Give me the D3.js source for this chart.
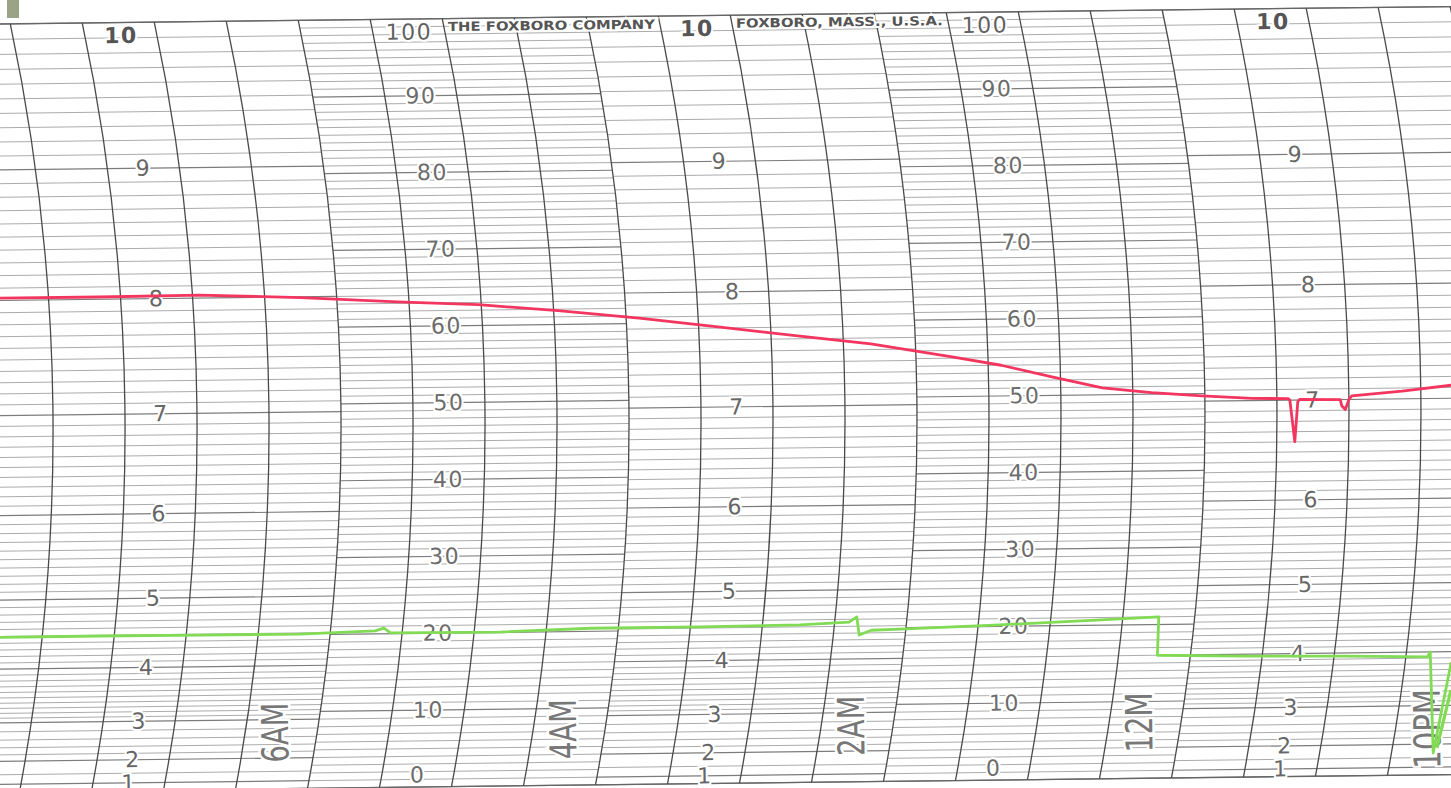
<!DOCTYPE html>
<html>
<head>
<meta charset="utf-8">
<script src="https://cdn.jsdelivr.net/npm/d3@7/dist/d3.min.js"></script>
<style>
  body { margin: 0; background: #fff; }
  svg { display: block; }
</style>
</head>
<body>
<svg></svg>
<script>
// hours after 10PM, time runs right to left on this paper
var timeLabels = ["10PM", "12M", "2AM", "4AM", "6AM"];
var timeHours = [0, 2, 4, 6, 8];

// 0-100 linear scale and the 1-10 square root scale
var linearTicks = [10, 20, 30, 40, 50, 60, 70, 80, 90];
var sqrtTicks = [1, 2, 3, 4, 5, 6, 7, 8, 9];

var headerTexts = ["THE FOXBORO COMPANY", "FOXBORO, MASS., U.S.A."];

// red pen, read on the 0-100 scale
var redHours = [10.15, 9.4, 8.7, 8.0, 7.33, 6.77, 6.22, 5.66, 5.1, 4.55, 4.06, 3.51, 3.16, 2.81, 2.46, 2.12, 1.77, 1.42, 1.17, 1.16, 1.125, 1.105, 1.09, 0.81, 0.8, 0.775, 0.75, 0.73, 0.38, 0.035, -0.1];
var redValues = [64.3, 64.3, 64.4, 63.9, 63.2, 62.7, 61.8, 60.7, 59.4, 58.1, 57.0, 55.2, 54.0, 52.4, 50.9, 50.2, 49.7, 49.3, 49.2, 49.0, 43.6, 48.8, 49.1, 49.0, 48.2, 47.7, 49.0, 49.45, 50.0, 50.7, 51.1];

// green pen
var greenHours = [10.15, 9.35, 8.65, 7.96, 7.44, 7.38, 7.33, 6.57, 5.94, 5.18, 4.49, 4.15, 4.10, 4.07, 3.99, 3.79, 3.10, 2.40, 2.0, 1.98, 1.36, 0.67, 0.10, 0.085, -0.04, -0.07];
var greenValues = [20.15, 20.16, 20.13, 20.1, 20.4, 20.75, 20.1, 20.05, 20.4, 20.4, 20.5, 20.8, 21.45, 19.1, 19.7, 19.8, 20.2, 20.7, 21.0, 16.0, 15.75, 15.6, 15.35, 16.0, 2.84, 14.66];
var greenStartHours = [-0.06, -0.094];
var greenStartValues = [3.49, 11.0];

var screen = { width: 1451, height: 788 };

var R = 1959;      // radius of the pen arcs
var bulge = 38;    // how far the arcs bow out in the middle
var yMid = 408;

var yScale = d3.scaleLinear().domain([0, 100]).range([792, 24]);
var sqrtScale = d3.scalePow().exponent(2).domain([0, 10]).range([792, 24]);
var colScale = d3.scaleLinear().domain([0, 1]).range([10, 82]);      // column -> x at top
var hourScale = d3.scaleLinear().domain([0, 8]).range([19.5, 3.5]); // hours -> column

var arcX = function(k, y) {
  return colScale(k) + Math.sqrt(R * R - (y - yMid) * (y - yMid)) - (R - bulge);
};

var svg = d3.select("svg")
            .attr("width", screen.width)
            .attr("height", screen.height);

svg.append("rect")
   .attr("width", screen.width)
   .attr("height", screen.height)
   .attr("fill", "#fff");

// scanner mark
svg.append("rect")
   .attr("x", 7).attr("y", 0).attr("width", 12).attr("height", 18)
   .attr("fill", "#9ba386");

var paper = svg.append("g").attr("transform", "rotate(-0.69)");

//horizontal rulings, each band between two arcs
var bands = [
  { k0: -2, k1: 4, type: "sqrt" },
  { k0: 4, k1: 8, type: "lin" },
  { k0: 8, k1: 12, type: "sqrt" },
  { k0: 12, k1: 16, type: "lin" },
  { k0: 16, k1: 22, type: "sqrt" }
];

var linRules = d3.range(0, 101).map(function(u) {
  return { y: yScale(u), major: u % 10 == 0 };
});
var sqrtRules = d3.range(30, 101).map(function(i) { return i / 10; })
                  .concat([2.2, 2.4, 2.6, 2.8, 2, 1.5, 1, 0])
                  .map(function(v) {
                    return { y: sqrtScale(v), major: Math.abs(v - Math.round(v)) < 1e-6 };
                  });

bands.forEach(function(b) {
  var rules = b.type == "lin" ? linRules : sqrtRules;
  paper.append("g")
       .selectAll("line")
       .data(rules)
       .enter()
       .append("line")
       .attr("x1", function(d) { return arcX(b.k0, d.y); })
       .attr("x2", function(d) { return arcX(b.k1, d.y); })
       .attr("y1", function(d) { return d.y; })
       .attr("y2", function(d) { return d.y; })
       .attr("stroke", function(d) { return d.major ? "#7c7c7c" : "#a2a2a2"; })
       .attr("stroke-width", function(d) { return d.major ? 1.2 : 0.9; });
});

//top and bottom edge
paper.selectAll(".edge")
     .data([100, 0])
     .enter()
     .append("line")
     .classed("edge", true)
     .attr("x1", -200).attr("x2", 1700)
     .attr("y1", function(d) { return yScale(d); })
     .attr("y2", function(d) { return yScale(d); })
     .attr("stroke", "#666")
     .attr("stroke-width", 1.3);

//half hour arcs
paper.append("g")
     .selectAll("path")
     .data(d3.range(-2, 23))
     .enter()
     .append("path")
     .attr("d", function(k) {
       var x = colScale(k);
       return "M" + x + "," + yScale(100) + "A" + R + "," + R + " 0 0 1 " + x + "," + yScale(0);
     })
     .attr("fill", "none")
     .attr("stroke", "#4a4a4a")
     .attr("stroke-width", 1.3);

var addLabel = function(k, y, txt, size, color, weight) {
  paper.append("text")
       .attr("x", arcX(k, y))
       .attr("y", y)
       .attr("text-anchor", "middle")
       .attr("dominant-baseline", "central")
       .attr("font-family", "DejaVu Sans")
       .attr("font-size", size)
       .attr("font-weight", weight || "normal")
       .attr("letter-spacing", 1.5)
       .attr("fill", color)
       .attr("stroke", "#fff")
       .attr("stroke-width", 4)
       .attr("paint-order", "stroke")
       .text(txt);
};

//linear scale labels
[5.5, 13.5].forEach(function(k) {
  linearTicks.forEach(function(u) { addLabel(k, yScale(u), u, 22, "#6c6c6c"); });
  addLabel(k, yScale(100) + 13, "100", 22, "#626262");
  addLabel(k, yScale(0) - 12, "0", 22, "#6c6c6c");
});

//square root scale labels
[1.5, 9.5, 17.5].forEach(function(k) {
  sqrtTicks.forEach(function(v) { addLabel(k, sqrtScale(v), v, 22, "#666"); });
  addLabel(k, yScale(100) + 13, "10", 22, "#555", "bold");
});

//maker's name
var headerCols = [[6, 9], [10, 13]];
headerTexts.forEach(function(t, i) {
  var yy = yScale(100) + 8;
  var x0 = arcX(headerCols[i][0], yy) + 4;
  var x1 = arcX(headerCols[i][1], yy) - 5;
  paper.append("text")
       .attr("x", x0)
       .attr("y", yy)
       .attr("dominant-baseline", "central")
       .attr("font-family", "DejaVu Sans")
       .attr("font-size", 12.5)
       .attr("font-weight", "bold")
       .attr("fill", "#555")
       .attr("textLength", x1 - x0)
       .attr("lengthAdjust", "spacingAndGlyphs")
       .attr("stroke", "#fff")
       .attr("stroke-width", 4)
       .attr("paint-order", "stroke")
       .text(t);
});

//time labels, written up the paper
timeLabels.forEach(function(t, i) {
  var yy = 706;
  var xx = arcX(hourScale(timeHours[i]) - 0.08, 735);
  paper.append("text")
       .attr("transform", "translate(" + xx + "," + yy + ") rotate(-90)")
       .attr("text-anchor", "end")
       .attr("dominant-baseline", "central")
       .attr("font-family", "DejaVu Sans")
       .attr("font-size", 37)
       .attr("textLength", t.length * 20)
       .attr("lengthAdjust", "spacingAndGlyphs")
       .attr("fill", "#777")
       .attr("stroke", "#fff")
       .attr("stroke-width", 5)
       .attr("paint-order", "stroke")
       .text(t);
});

//pen traces
var toPoints = function(hours, values) {
  return hours.map(function(h, i) { return { t: h, u: values[i] }; });
};

var trace = d3.line()
              .x(function(d) { return arcX(hourScale(d.t), yScale(d.u)); })
              .y(function(d) { return yScale(d.u); });

paper.append("path")
     .attr("d", trace(toPoints(redHours, redValues)))
     .attr("fill", "none")
     .attr("stroke", "#f2365f")
     .attr("stroke-width", 2.8)
     .attr("stroke-linejoin", "round");

paper.append("path")
     .attr("d", trace(toPoints(greenHours, greenValues)))
     .attr("fill", "none")
     .attr("stroke", "#82db55")
     .attr("stroke-width", 2.8)
     .attr("stroke-linejoin", "round");

paper.append("path")
     .attr("d", trace(toPoints(greenStartHours, greenStartValues)))
     .attr("fill", "none")
     .attr("stroke", "#82db55")
     .attr("stroke-width", 3.2);
</script>
</body>
</html>
